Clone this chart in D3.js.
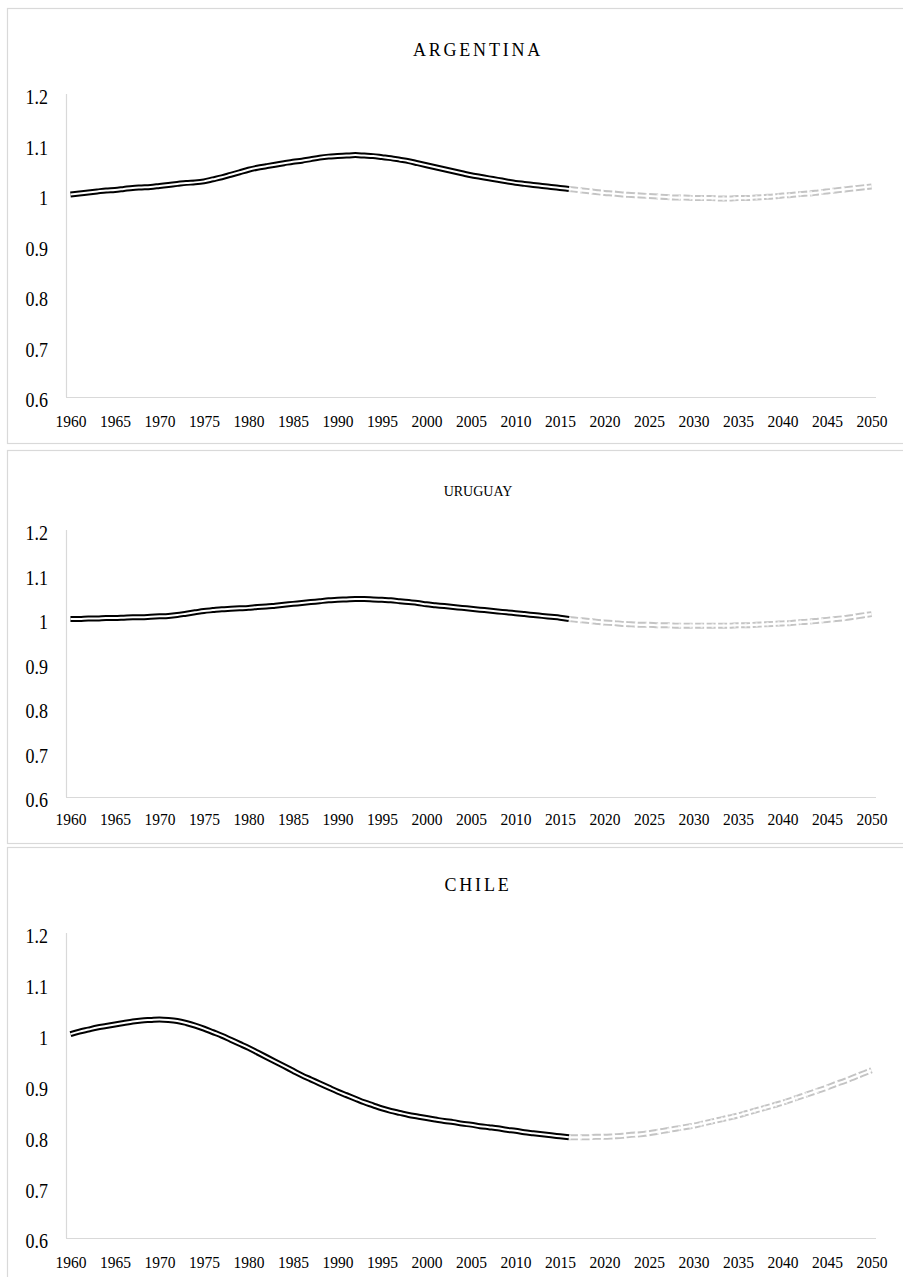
<!DOCTYPE html>
<html><head><meta charset="utf-8">
<script src="https://cdn.jsdelivr.net/npm/d3@7"></script>
<style>body{margin:0;background:#fff}svg{display:block}text{font-family:'Liberation Serif','Times New Roman',serif}</style>
</head><body>
<svg id="c" width="903" height="1277"></svg>
<script>
// ---------- data ----------
const categories = d3.range(1960, 2051);
const xTickLabels = [1960,1965,1970,1975,1980,1985,1990,1995,2000,2005,2010,2015,2020,2025,2030,2035,2040,2045,2050];
const yTickValues = [0.6,0.7,0.8,0.9,1,1.1,1.2];
const titles = ["ARGENTINA","URUGUAY","CHILE"];
const histYears = d3.range(1960, 2017);
const projYears = d3.range(2016, 2051);

const argentinaHist = [1.001,1.003,1.005,1.007,1.009,1.010,1.012,1.014,1.015,1.016,
  1.018,1.020,1.022,1.024,1.025,1.027,1.031,1.035,1.040,1.045,
  1.050,1.054,1.057,1.060,1.063,1.066,1.068,1.071,1.074,1.076,
  1.077,1.078,1.079,1.078,1.077,1.075,1.073,1.070,1.067,1.063,
  1.059,1.055,1.051,1.047,1.043,1.039,1.036,1.033,1.030,1.027,
  1.024,1.022,1.020,1.018,1.016,1.014,1.012];
const argentinaProj = [1.012,1.010,1.008,1.006,1.004,1.003,1.001,1.000,0.999,0.998,
  0.997,0.996,0.995,0.995,0.994,0.994,0.994,0.993,0.993,0.994,
  0.994,0.995,0.996,0.997,0.999,1.000,1.002,1.003,1.005,1.007,
  1.009,1.011,1.013,1.015,1.017];

const uruguayHist = [1.000,1.000,1.001,1.001,1.002,1.002,1.003,1.004,1.004,1.005,
  1.006,1.007,1.009,1.012,1.015,1.018,1.020,1.022,1.023,1.024,
  1.025,1.027,1.028,1.030,1.032,1.034,1.036,1.038,1.040,1.042,
  1.043,1.044,1.045,1.045,1.044,1.043,1.042,1.040,1.038,1.036,
  1.033,1.031,1.029,1.027,1.025,1.023,1.021,1.019,1.017,1.015,
  1.013,1.011,1.009,1.007,1.005,1.003,1.000];
const uruguayProj = [1.000,0.998,0.996,0.994,0.992,0.991,0.989,0.988,0.987,0.987,
  0.986,0.986,0.985,0.985,0.985,0.985,0.985,0.985,0.985,0.986,
  0.986,0.987,0.988,0.989,0.990,0.991,0.993,0.994,0.996,0.998,
  1.000,1.002,1.005,1.008,1.011];

const chileHist = [1.001,1.006,1.010,1.014,1.017,1.020,1.023,1.026,1.028,1.029,
  1.030,1.029,1.027,1.023,1.018,1.012,1.005,0.998,0.990,0.982,
  0.974,0.965,0.956,0.947,0.938,0.929,0.920,0.912,0.904,0.896,
  0.888,0.881,0.874,0.867,0.861,0.855,0.850,0.846,0.842,0.839,
  0.836,0.833,0.830,0.828,0.825,0.823,0.820,0.818,0.816,0.813,
  0.811,0.808,0.806,0.804,0.802,0.800,0.798];
const chileProj = [0.798,0.798,0.798,0.799,0.799,0.800,0.801,0.803,0.804,0.806,
  0.809,0.812,0.815,0.818,0.821,0.825,0.829,0.833,0.837,0.841,
  0.846,0.851,0.856,0.861,0.866,0.872,0.878,0.884,0.890,0.896,
  0.903,0.909,0.916,0.923,0.930];

const histSeries = [argentinaHist, uruguayHist, chileHist];
const projSeries = [argentinaProj, uruguayProj, chileProj];

// ---------- layout ----------
const panels = [
  {boxTop: 8,   boxBottom: 443, plotTop: 94,  plotBottom: 397, titleY: 50,  titleSize: 18, spacing: 2.8, xLabOff: 24},
  {boxTop: 450, boxBottom: 843, plotTop: 530, plotBottom: 797, titleY: 491, titleSize: 14, spacing: 0,   xLabOff: 22},
  {boxTop: 847, boxBottom: 1290, plotTop: 933, plotBottom: 1238, titleY: 885, titleSize: 18, spacing: 2.8, xLabOff: 24}
];
const plotLeft = 66, plotRight = 876;
const font = "'Liberation Serif','Times New Roman',serif";

const svg = d3.select("#c");
const x = d3.scalePoint().domain(categories).range([plotLeft, plotRight]).padding(0.5);

panels.forEach((p, i) => {
  const g = svg.append("g");
  g.append("rect").attr("x", 7.5).attr("y", p.boxTop + 0.5)
    .attr("width", 920).attr("height", p.boxBottom - p.boxTop)
    .attr("fill", "#fff").attr("stroke", "#d9d9d9").attr("stroke-width", 1.2);

  const y = d3.scaleLinear().domain([0.6, 1.2]).range([p.plotBottom, p.plotTop]);

  // axis lines
  g.append("line").attr("x1", plotLeft + 0.5).attr("x2", plotLeft + 0.5)
    .attr("y1", p.plotTop).attr("y2", p.plotBottom).attr("stroke", "#d9d9d9").attr("stroke-width", 1.2);
  g.append("line").attr("x1", plotLeft).attr("x2", plotRight)
    .attr("y1", p.plotBottom + 0.5).attr("y2", p.plotBottom + 0.5).attr("stroke", "#d9d9d9").attr("stroke-width", 1.2);

  // y axis labels
  const ya = g.append("g").attr("transform", `translate(${plotLeft},0)`)
    .call(d3.axisLeft(y).tickValues(yTickValues).tickSize(0).tickPadding(18).tickFormat(d3.format("")));
  ya.attr("font-family", null);
  ya.select(".domain").remove();
  ya.selectAll("text").style("font-family", font).attr("font-size", 18).attr("fill", "#000")
    .attr("dy", null).attr("dominant-baseline", "central")
    .attr("x", -18).attr("y", 0)
    .attr("transform", "translate(0,3) scale(1,1.15)");

  // x axis labels
  const xa = g.append("g").attr("transform", `translate(0,${p.plotBottom})`)
    .call(d3.axisBottom(x).tickValues(xTickLabels).tickSize(0).tickPadding(0));
  xa.attr("font-family", null);
  xa.select(".domain").remove();
  xa.selectAll("text").style("font-family", font).attr("font-size", 15.5).attr("fill", "#000")
    .attr("y", 0).attr("dy", null).attr("dominant-baseline", "central")
    .attr("transform", `translate(0,${p.xLabOff}) scale(1,1.13)`);

  // title
  g.append("text").attr("x", 478).attr("y", p.titleY)
    .attr("text-anchor", "middle").attr("dominant-baseline", "central")
    .style("font-family", font).attr("font-size", p.titleSize)
    .attr("letter-spacing", p.spacing)
    .text(titles[i]);

  const line = d3.line().x(d => x(d[0])).y(d => y(d[1])).curve(d3.curveMonotoneX);
  const hist = histYears.map((yr, k) => [yr, histSeries[i][k]]);
  const proj = projYears.map((yr, k) => [yr, projSeries[i][k]]);

  // projection: light gray dashed compound line
  g.append("path").datum(proj).attr("d", line).attr("fill", "none")
    .attr("stroke", "#c4c4c4").attr("stroke-width", 6).attr("stroke-dasharray", "9,2.5");
  g.append("path").datum(proj).attr("d", line).attr("fill", "none")
    .attr("stroke", "#fff").attr("stroke-width", 2.2);
  g.append("path").datum(proj).attr("d", line).attr("fill", "none")
    .attr("stroke", "#fff").attr("stroke-width", 5).attr("stroke-dasharray", "2,9").attr("stroke-opacity", 0.6);

  // historical: black double line
  g.append("path").datum(hist).attr("d", line).attr("fill", "none")
    .attr("stroke", "#000").attr("stroke-width", 6).attr("stroke-linejoin", "round");
  g.append("path").datum(hist).attr("d", line).attr("fill", "none")
    .attr("stroke", "#fff").attr("stroke-width", 2).attr("stroke-linejoin", "round");
});
</script>
</body></html>
